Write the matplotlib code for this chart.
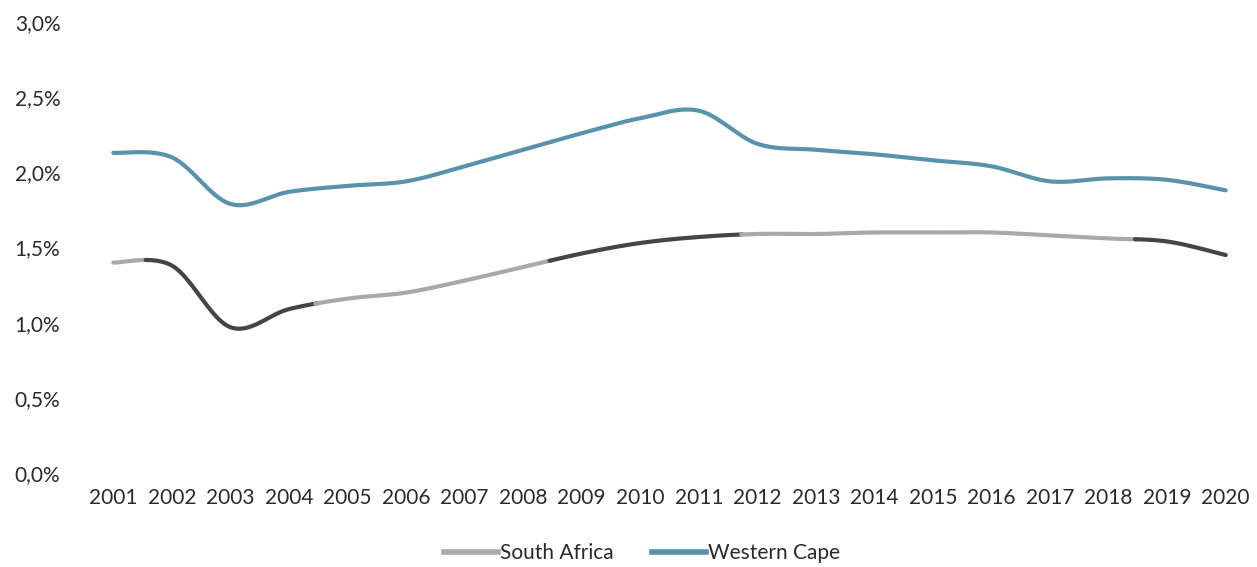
import numpy as np
import matplotlib
matplotlib.use("Agg")
import matplotlib.pyplot as plt
from matplotlib.lines import Line2D
from matplotlib.ticker import FuncFormatter

# Annual growth rates (%)
years = list(range(2001, 2021))
south_africa = [1.40, 1.38, 0.97, 1.09, 1.16, 1.20, 1.28, 1.37, 1.46, 1.53,
                1.57, 1.59, 1.59, 1.60, 1.60, 1.60, 1.58, 1.56, 1.54, 1.45]
western_cape = [2.13, 2.10, 1.79, 1.87, 1.91, 1.94, 2.04, 2.15, 2.26, 2.36,
                2.41, 2.19, 2.15, 2.12, 2.08, 2.04, 1.94, 1.96, 1.95, 1.88]
y_ticks = [0.0, 0.5, 1.0, 1.5, 2.0, 2.5, 3.0]

TEXT = "#2a2a2a"
BLUE = "#5893ad"
GREY_LIGHT = "#a9a9a9"
GREY_DARK = "#454545"
plt.rcParams["font.family"] = ["Lato", "DejaVu Sans"]


def smooth(x, y, n=40):
    """Excel-style smoothed line: cubic Bezier through points (Catmull-Rom)."""
    p = np.column_stack([x, y]).astype(float)
    pts = np.vstack([p[0], p, p[-1]])
    out = []
    t = np.linspace(0, 1, n, endpoint=False)[:, None]
    for i in range(1, len(pts) - 2):
        p0, p1, p2, p3 = pts[i - 1], pts[i], pts[i + 1], pts[i + 2]
        c1 = p1 + (p2 - p0) / 6
        c2 = p2 - (p3 - p1) / 6
        seg = ((1 - t) ** 3) * p1 + 3 * ((1 - t) ** 2) * t * c1 \
            + 3 * (1 - t) * t ** 2 * c2 + t ** 3 * p2
        out.append(seg)
    out.append(p[-1][None, :])
    c = np.vstack(out)
    return c[:, 0], c[:, 1]


fig = plt.figure(figsize=(12.57, 5.67), dpi=100)
ax = fig.add_axes([84 / 1257, 94 / 567, 1171 / 1257, 451 / 567])

x = np.arange(len(years))
wx, wy = smooth(x, western_cape)
sx, sy = smooth(x, south_africa)

ax.plot(wx, wy, color=BLUE, lw=3.0, solid_capstyle="round", zorder=3)

# South Africa line, printed in alternating grey tones
bands = [(0.0, 0.58, GREY_LIGHT), (0.58, 3.48, GREY_DARK),
         (3.48, 7.46, GREY_LIGHT), (7.46, 10.73, GREY_DARK),
         (10.73, 17.47, GREY_LIGHT), (17.47, 19.0, GREY_DARK)]
for a, b, col in bands:
    m = (sx >= a - 0.03) & (sx <= b + 0.03)
    ax.plot(sx[m], sy[m], color=col, lw=3.0, solid_capstyle="round", zorder=3)

ax.set_xlim(-0.5, len(years) - 0.5)
ax.set_ylim(0, 3.0)
ax.set_xticks(x)
ax.set_xticklabels([str(y) for y in years])
ax.set_yticks(y_ticks)
ax.yaxis.set_major_formatter(FuncFormatter(lambda v, _: f"{v:.1f}%".replace(".", ",")))
for s in ax.spines.values():
    s.set_visible(False)
ax.tick_params(axis="both", length=0, labelsize=15, labelcolor=TEXT)
ax.tick_params(axis="y", pad=17)
ax.tick_params(axis="x", pad=11)

handles = [Line2D([], [], color=GREY_LIGHT, lw=4),
           Line2D([], [], color=BLUE, lw=4)]
fig.legend(handles, ["South Africa", "Western Cape"], loc="center",
           bbox_to_anchor=(642 / 1257, 1 - 553 / 567), ncol=2, frameon=False,
           fontsize=15, handlelength=2.6, handletextpad=0.1, columnspacing=1.8,
           labelcolor=TEXT)

fig.savefig("out.png", dpi=100, facecolor="white")
